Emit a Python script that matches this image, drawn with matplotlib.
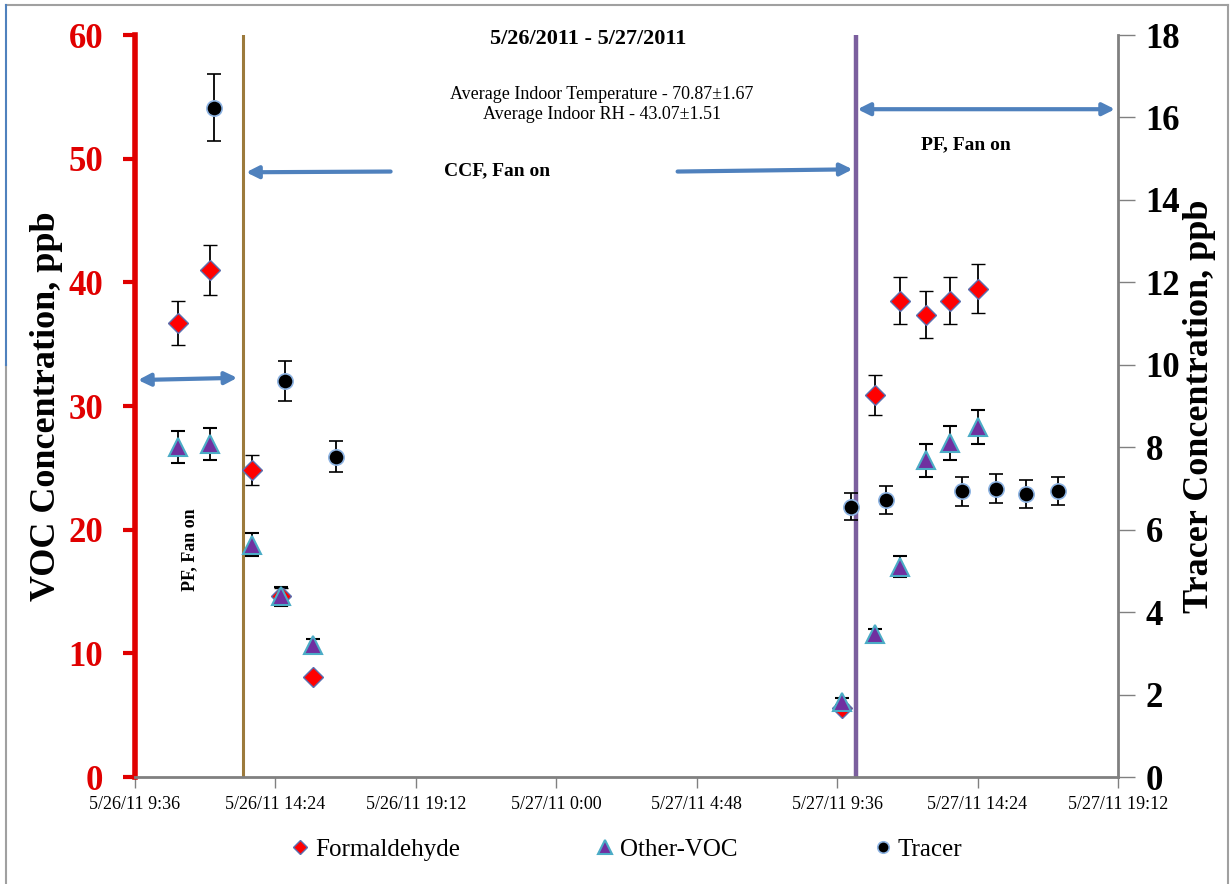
import datetime as dt
import matplotlib
matplotlib.use('Agg')
from matplotlib import pyplot as plt
from matplotlib.lines import Line2D

plt.rcParams['font.family'] = ['Liberation Serif', 'DejaVu Serif']

def t(day, hh, mm):
    return dt.datetime(2011, 5, day, hh, mm)

# formaldehyde / other-voc sampling times (VOC axis, ppb)
voc_times = [t(26, 11, 5), t(26, 12, 10), t(26, 13, 35), t(26, 14, 35), t(26, 15, 41),
             t(27, 9, 46), t(27, 10, 53), t(27, 11, 45), t(27, 12, 38), t(27, 13, 28), t(27, 14, 25)]
formaldehyde = [36.7, 41.0, 24.8, 14.6, 8.1, 5.6, 30.9, 38.5, 37.4, 38.5, 39.5]
formaldehyde_err = [1.8, 2.0, 1.2, 0.7, 0.0, 0.2, 1.6, 1.9, 1.9, 1.9, 2.0]
other_voc = [26.7, 26.9, 18.8, 14.6, 10.7, 6.1, 11.6, 17.0, 25.6, 27.0, 28.3]
other_voc_err = [1.3, 1.3, 0.9, 0.8, 0.5, 0.3, 0.4, 0.85, 1.3, 1.35, 1.4]

# tracer (right axis, ppb)
tracer_times = [t(26, 12, 17), t(26, 14, 44), t(26, 16, 28), t(27, 10, 4), t(27, 11, 16),
                t(27, 13, 52), t(27, 15, 1), t(27, 16, 4), t(27, 17, 9)]
tracer = [16.24, 9.61, 7.77, 6.56, 6.73, 6.93, 6.99, 6.87, 6.94]
tracer_err = [0.81, 0.49, 0.38, 0.33, 0.34, 0.35, 0.35, 0.34, 0.35]

# fan / filter change times
ccf_start = t(26, 13, 17)
pf_start = t(27, 10, 14)

x_start = t(26, 9, 36)
x_ticks = [x_start + dt.timedelta(minutes=288 * i) for i in range(8)]
x_labels = ['5/26/11 9:36', '5/26/11 14:24', '5/26/11 19:12', '5/27/11 0:00',
            '5/27/11 4:48', '5/27/11 9:36', '5/27/11 14:24', '5/27/11 19:12']

fig = plt.figure(figsize=(12.3, 8.84), dpi=100)
ax = fig.add_axes([0.1098, 0.1210, 0.7991, 0.8394])
ax2 = ax.twinx()

# frame around the figure
fig.add_artist(Line2D([0.005, 0.998], [0.9945, 0.9945], transform=fig.transFigure, color='#a0a0a0', lw=1.5))
fig.add_artist(Line2D([0.998, 0.998], [0.0, 0.9945], transform=fig.transFigure, color='#a0a0a0', lw=1.5))
fig.add_artist(Line2D([0.005, 0.005], [0.0, 0.587], transform=fig.transFigure, color='#a0a0a0', lw=1.5))
fig.add_artist(Line2D([0.005, 0.005], [0.587, 0.9945], transform=fig.transFigure, color='#4f81bd', lw=1.5))

ax.axvline(ccf_start, color='#9c7a3c', lw=2.2, zorder=1)
ax.axvline(pf_start, color='#7b5f9e', lw=3.2, zorder=1)

ax.errorbar(voc_times, formaldehyde, yerr=formaldehyde_err, fmt='D', ms=10, mfc='#ff0000', mec='#5b6fb0',
            mew=1, ecolor='black', elinewidth=1.3, capsize=5, capthick=1.3, label='Formaldehyde', zorder=3)
ax.errorbar(voc_times, other_voc, yerr=other_voc_err, fmt='^', ms=13, mfc='#7030a0', mec='#4bacc6',
            mew=1.5, ecolor='black', elinewidth=1.3, capsize=5, capthick=1.3, label='Other-VOC', zorder=4)
ax2.errorbar(tracer_times, tracer, yerr=tracer_err, fmt='o', ms=11, mfc='black', mec='#8eb4e3',
             mew=1.2, ecolor='black', elinewidth=1.3, capsize=5, capthick=1.3, label='Tracer', zorder=3)

ax.set_xlim(x_ticks[0], x_ticks[-1])
ax.set_ylim(0, 60)
ax2.set_ylim(0, 18)
ax.set_xticks(x_ticks)
ax.set_xticklabels(x_labels, fontsize=13)
ax.set_yticks(range(0, 61, 10))
ax2.set_yticks(range(0, 19, 2))

ax.spines['top'].set_visible(False)
ax2.spines['top'].set_visible(False)
ax.spines['right'].set_visible(False)
ax2.spines['left'].set_visible(False)
ax2.spines['bottom'].set_visible(False)
ax.spines['left'].set_color('#e00000')
ax.spines['left'].set_linewidth(4)
ax.spines['bottom'].set_color('#808080')
ax.spines['bottom'].set_linewidth(2)
ax2.spines['right'].set_color('#808080')
ax2.spines['right'].set_linewidth(2)

ax.tick_params(axis='y', colors='#e00000', width=3, length=9, labelsize=25, pad=14)
ax.tick_params(axis='x', colors='#808080', width=1, length=8, labelcolor='black', pad=6)
ax2.tick_params(axis='y', colors='#808080', width=1, length=12, labelcolor='black', labelsize=25, pad=8)
for lab in ax.get_yticklabels() + ax2.get_yticklabels():
    lab.set_fontweight('bold')

ax.set_ylabel('VOC Concentration, ppb', fontsize=26, fontweight='bold', labelpad=4)
ax2.set_ylabel('Tracer Concentration, ppb', fontsize=26, fontweight='bold', labelpad=2)

# annotations
ax.text(0.461, 0.995, '5/26/2011 - 5/27/2011', transform=ax.transAxes, ha='center', va='center',
        fontsize=16, fontweight='bold')
ax.text(0.475, 0.906, 'Average Indoor Temperature - 70.87\u00b11.67\nAverage Indoor RH - 43.07\u00b11.51',
        transform=ax.transAxes, ha='center', va='center', fontsize=13, linespacing=1.25)
ax.text(0.368, 0.817, 'CCF, Fan on', transform=ax.transAxes, ha='center', va='center',
        fontsize=14, fontweight='bold')
ax.text(0.845, 0.852, 'PF, Fan on', transform=ax.transAxes, ha='center', va='center',
        fontsize=14, fontweight='bold')
ax.text(0.056, 0.307, 'PF, Fan on', transform=ax.transAxes, ha='center', va='center',
        fontsize=13, fontweight='bold', rotation=90)

arrow = dict(arrowstyle='<|-|>', color='#4f81bd', lw=3, mutation_scale=18, shrinkA=0, shrinkB=0)
arrow_one = dict(arrowstyle='-|>', color='#4f81bd', lw=3, mutation_scale=18, shrinkA=0, shrinkB=0)
ax.annotate('', xy=(0.003, 0.535), xytext=(0.104, 0.538), xycoords='axes fraction', arrowprops=arrow)
ax.annotate('', xy=(0.113, 0.815), xytext=(0.26, 0.816), xycoords='axes fraction', arrowprops=arrow_one)
ax.annotate('', xy=(0.73, 0.819), xytext=(0.552, 0.816), xycoords='axes fraction', arrowprops=arrow_one)
ax.annotate('', xy=(0.735, 0.9), xytext=(0.997, 0.9), xycoords='axes fraction', arrowprops=arrow)

h1, l1 = ax.get_legend_handles_labels()
h2, l2 = ax2.get_legend_handles_labels()
handles = [h[0] for h in h1 + h2]
fig.legend(handles, l1 + l2, loc='center', bbox_to_anchor=(0.508, 0.039), ncol=3, frameon=False,
           fontsize=18, columnspacing=5.3, handletextpad=0.1, handlelength=1.0, markerscale=0.75)

fig.savefig('out.png', dpi=100)
